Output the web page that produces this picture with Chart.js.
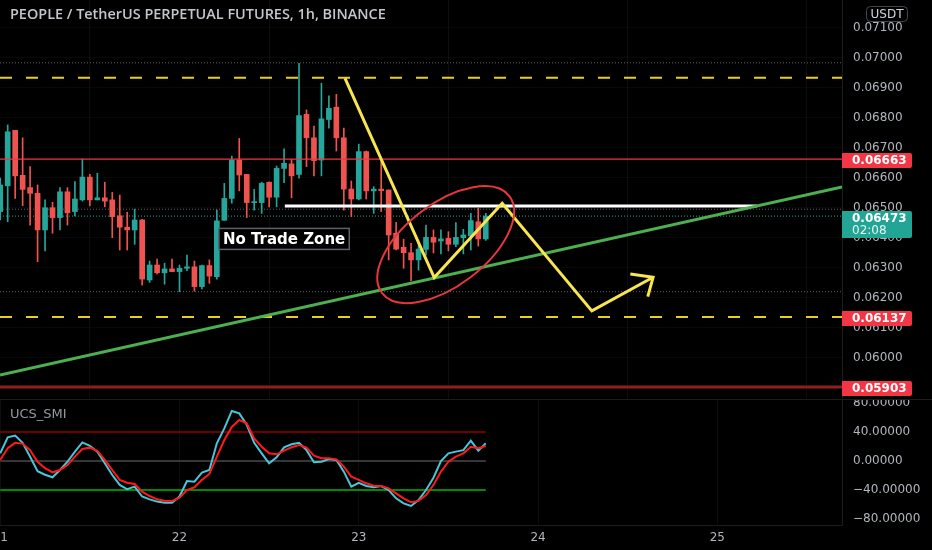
<!DOCTYPE html>
<html><head><meta charset="utf-8">
<script src="https://cdn.jsdelivr.net/npm/chart.js@4.4.0/dist/chart.umd.min.js"></script>
<style>
html,body{margin:0;padding:0;background:#000;overflow:hidden}
#wrap{position:relative;width:932px;height:550px;background:#000}
#c1{position:absolute;left:0;top:0}
#c2{position:absolute;left:0;top:400px}
</style></head><body>
<div id="wrap">
<canvas id="c1" width="932" height="400"></canvas>
<canvas id="c2" width="932" height="150"></canvas>
</div>
<script>
// ---------- DATA ----------
const chartTitle = 'PEOPLE / TetherUS PERPETUAL FUTURES, 1h, BINANCE';
const currency = 'USDT';
const indicatorName = 'UCS_SMI';
const zoneLabel = 'No Trade Zone';
const countdown = '02:08';
const dayHours = [0, 24, 48, 72, 96];
const dayLabels = ['21', '22', '23', '24', '25'];
const priceTicks = [0.060, 0.061, 0.062, 0.063, 0.064, 0.065, 0.066, 0.067, 0.068, 0.069, 0.070, 0.071];
const smiTicks = [80, 40, 0, -40, -80];

const opens  = [0.06488,0.06574,0.06759,0.06609,0.06568,0.06549,0.06427,0.06501,0.06468,0.06554,0.06488,0.06527,0.06603,0.06527,0.06534,0.06527,0.06474,0.06436,0.06427,0.06460,0.06260,0.06310,0.06284,0.06297,0.06288,0.06299,0.06304,0.06238,0.06308,0.06271,0.06459,0.06532,0.06660,0.06612,0.06518,0.06518,0.06586,0.06536,0.06632,0.06647,0.06612,0.06812,0.06734,0.06660,0.06795,0.06836,0.06734,0.06563,0.06530,0.06688,0.06557,0.06563,0.06560,0.06416,0.06369,0.06351,0.06327,0.06362,0.06402,0.06390,0.06399,0.06379,0.06401,0.06407,0.06454,0.06397];
const highs  = [0.06600,0.06777,0.06759,0.06734,0.06638,0.06577,0.06527,0.06519,0.06568,0.06568,0.06588,0.06663,0.06612,0.06616,0.06586,0.06552,0.06543,0.06486,0.06496,0.06462,0.06323,0.06330,0.06316,0.06330,0.06310,0.06343,0.06323,0.06310,0.06327,0.06493,0.06582,0.06673,0.06732,0.06612,0.06562,0.06586,0.06586,0.06640,0.06697,0.06662,0.06982,0.06827,0.06773,0.06916,0.06874,0.06879,0.06766,0.06590,0.06713,0.06690,0.06571,0.06654,0.06560,0.06452,0.06396,0.06382,0.06382,0.06443,0.06427,0.06427,0.06421,0.06451,0.06429,0.06482,0.06499,0.06482];
const lows   = [0.06460,0.06454,0.06532,0.06508,0.06443,0.06321,0.06357,0.06416,0.06427,0.06443,0.06474,0.06523,0.06507,0.06527,0.06504,0.06401,0.06360,0.06360,0.06379,0.06243,0.06252,0.06280,0.06246,0.06288,0.06221,0.06291,0.06223,0.06230,0.06249,0.06263,0.06459,0.06516,0.06557,0.06468,0.06493,0.06482,0.06504,0.06504,0.06584,0.06534,0.06599,0.06638,0.06607,0.06607,0.06766,0.06690,0.06493,0.06471,0.06527,0.06530,0.06482,0.06488,0.06327,0.06360,0.06299,0.06257,0.06293,0.06343,0.06350,0.06347,0.06357,0.06371,0.06347,0.06360,0.06373,0.06392];
const closes = [0.06577,0.06754,0.06607,0.06562,0.06549,0.06427,0.06501,0.06468,0.06554,0.06484,0.06530,0.06603,0.06527,0.06534,0.06523,0.06471,0.06436,0.06427,0.06460,0.06263,0.06310,0.06284,0.06297,0.06288,0.06299,0.06304,0.06238,0.06308,0.06273,0.06457,0.06532,0.06660,0.06610,0.06518,0.06521,0.06582,0.06536,0.06632,0.06649,0.06607,0.06808,0.06734,0.06658,0.06797,0.06832,0.06734,0.06563,0.06530,0.06688,0.06557,0.06563,0.06558,0.06410,0.06363,0.06351,0.06327,0.06363,0.06402,0.06386,0.06397,0.06379,0.06402,0.06410,0.06458,0.06397,0.06473];

const smi       = [10.6,32.7,35,25,6,-14,-19,-22.5,-12.4,-1,12.9,25.7,21,12.9,-3.2,-19.3,-33,-39,-35.4,-49,-52.9,-56,-57.5,-57.5,-49,-27.6,-28.5,-16,-12.4,24.4,45,69,65.7,50,25,10.6,-3.2,5,18.9,23,25,15,-1.8,-1,2.8,1.4,-14.7,-35.4,-30,-34.5,-36.3,-34.5,-40,-51.5,-58.4,-62,-53.8,-40,-23,0,10.6,12.9,15,28,14.2,24.4];
const smiSignal = [1.4,17.5,25,24,15,-1,-10,-15.6,-12.4,-5.5,6,16.5,18.4,14.2,1.4,-12.4,-26,-30,-31.7,-42.3,-48.3,-52.9,-54.7,-55.2,-50.6,-40,-36.3,-26,-17.9,6,29,47,56.6,52,31,19.7,10.6,9.2,14.2,18.9,22,18.4,7.3,3.7,3.7,2.3,-7.8,-21.6,-26,-30.8,-34,-34.5,-37.7,-44.6,-51.5,-57,-55,-47,-33,-14.7,-1,6,10.6,19.7,17.5,20.7];
const smiUpper = 40, smiMid = 0, smiLower = -40;

const levelTop = 0.06934, levelSupport = 0.06137, levelRed = 0.06663, levelDeep = 0.05903;
const rangeHigh = 0.06984, rangeLow = 0.06221, prevClose = 0.06496, lastPrice = 0.06473;
const zoneLevel = 0.06507, zoneFrom = 38.1, zoneTo = 101.3;
const trendX = [-0.03, 112.69], trendY = [0.05943, 0.06570];
const pathX = [46.16, 58.1, 67.2, 79.2, 87.4];
const pathY = [0.06932, 0.06268, 0.06516, 0.06157, 0.06269];
const ellipseCenter = [59.64, 0.06378];
const labelAnchor = [38, 0.06397];

// ---------- VIEW ----------
const xMin = -0.03, xMax = 112.69;
const pMin = 0.0586, pMax = 0.071933;
const sMin = -88.28, sMax = 84.14;
const UP = '#26a69a', DOWN = '#ef5350';
const AXIS_TXT = '#b2b5be';
const FONT = 'DejaVu Sans';
Chart.defaults.font.family = FONT;

const hours = opens.map((_, i) => i);
const candleColors = closes.map((c, i) => c >= opens[i] ? UP : DOWN);
const wicks = hours.map((h, i) => ({x: h, y: [lows[i], highs[i]]}));
const bodies = hours.map((h, i) => ({x: h, y: [opens[i], closes[i]]}));
const seg = (v, a = xMin, b = xMax) => [{x: a, y: v}, {x: b, y: v}];
const lineDs = (data, color, width, dash, order) => ({type: 'line', data, borderColor: color, borderWidth: width, borderDash: dash || [], pointRadius: 0, tension: 0, fill: false, order});

function tag(ctx, yPix, text, bg, sub) {
  ctx.save();
  const h = sub ? 27 : 15;
  const top = sub ? yPix - 6 : yPix - 7;
  ctx.fillStyle = bg;
  ctx.beginPath();
  ctx.roundRect(842, top, 70, h, [0, 2, 2, 0]);
  ctx.fill();
  ctx.fillStyle = '#ffffff';
  ctx.font = 'bold 12px "' + FONT + '"';
  ctx.textBaseline = 'middle';
  ctx.textAlign = 'left';
  ctx.fillText(text, 852, top + 7.5);
  if (sub) { ctx.font = '12px "' + FONT + '"'; ctx.fillStyle = '#e8f5f3'; ctx.fillText(sub, 852, top + 20); }
  ctx.restore();
}

const overlayA = {
  id: 'overlayA',
  afterDatasetsDraw(chart) {
    const {ctx, scales: {x, y}} = chart;
    ctx.save();
    // ellipse
    ctx.beginPath();
    ctx.ellipse(x.getPixelForValue(ellipseCenter[0]), y.getPixelForValue(ellipseCenter[1]), 80, 41, -37.3 * Math.PI / 180, 0, Math.PI * 2);
    ctx.strokeStyle = '#e8363c'; ctx.lineWidth = 2; ctx.stroke();
    // arrow head
    const n = pathX.length;
    const x1 = x.getPixelForValue(pathX[n - 2]), y1 = y.getPixelForValue(pathY[n - 2]);
    const x2 = x.getPixelForValue(pathX[n - 1]), y2 = y.getPixelForValue(pathY[n - 1]);
    const ang = Math.atan2(y2 - y1, x2 - x1) + Math.PI;
    ctx.beginPath();
    ctx.moveTo(x2 + 23 * Math.cos(ang + 0.65), y2 + 23 * Math.sin(ang + 0.65));
    ctx.lineTo(x2, y2);
    ctx.lineTo(x2 + 20 * Math.cos(ang - 0.8), y2 + 20 * Math.sin(ang - 0.8));
    ctx.strokeStyle = '#f9e64f'; ctx.lineWidth = 3; ctx.lineJoin = 'miter'; ctx.lineCap = 'butt'; ctx.stroke();
    // label
    const lx = x.getPixelForValue(labelAnchor[0]), ly = y.getPixelForValue(labelAnchor[1]);
    ctx.font = 'bold 15px "' + FONT + '"';
    const tw = ctx.measureText(zoneLabel).width;
    ctx.fillStyle = '#000';
    ctx.fillRect(lx - tw / 2 - 4, ly - 10.5, tw + 8, 21);
    ctx.strokeStyle = '#5d606b'; ctx.lineWidth = 1.5;
    ctx.strokeRect(lx - tw / 2 - 4, ly - 10.5, tw + 8, 21);
    ctx.fillStyle = '#ffffff'; ctx.textBaseline = 'middle'; ctx.textAlign = 'center';
    ctx.fillText(zoneLabel, lx, ly + 1);
    ctx.restore();
  },
  afterDraw(chart) {
    const {ctx, scales: {y}} = chart;
    ctx.save();
    // title
    ctx.font = '600 13px "Open Sans"';
    const w = ctx.measureText(chartTitle).width;
    const fs = 13 * 376 / w;
    ctx.font = '600 ' + fs.toFixed(2) + 'px "Open Sans"';
    ctx.fillStyle = '#c3c6cc'; ctx.textBaseline = 'middle'; ctx.textAlign = 'left';
    ctx.fillText(chartTitle, 10, 15);
    // currency box
    ctx.strokeStyle = '#434651'; ctx.lineWidth = 1;
    ctx.beginPath(); ctx.roundRect(866.5, 6.5, 41, 15, 4); ctx.stroke();
    ctx.font = '12px "' + FONT + '"'; ctx.fillStyle = '#d1d4dc'; ctx.textAlign = 'center';
    ctx.fillText(currency, 887, 14.5);
    ctx.restore();
    tag(ctx, y.getPixelForValue(levelRed) + 1, levelRed.toFixed(5), '#f23645');
    tag(ctx, y.getPixelForValue(levelSupport) + 1, levelSupport.toFixed(5), '#f23645');
    tag(ctx, y.getPixelForValue(levelDeep) + 1, levelDeep.toFixed(5), '#f23645');
    tag(ctx, y.getPixelForValue(lastPrice) + 1, lastPrice.toFixed(5), '#22a595', countdown);
    // panel separator
    ctx.save(); ctx.fillStyle = '#1c1c1c'; ctx.fillRect(0, 399, 932, 1); ctx.restore();
  }
};

new Chart(document.getElementById('c1'), {
  type: 'bar',
  data: {datasets: [
    lineDs(seg(rangeHigh), '#5d606b', 1, [1, 2], 40),
    lineDs(seg(prevClose), '#5d606b', 1, [1, 2], 40),
    lineDs(seg(rangeLow), '#5d606b', 1, [1, 2], 40),
    lineDs(seg(lastPrice), UP, 1, [1, 2], 40),
    {type: 'bar', data: wicks, backgroundColor: candleColors, barThickness: 1, grouped: false, order: 30},
    {type: 'bar', data: bodies, backgroundColor: candleColors, barThickness: 5, grouped: false, minBarLength: 1, order: 29},
    lineDs(seg(levelRed), '#f23645', 1.4, null, 12),
    lineDs(seg(levelDeep), '#8f1f1f', 3, null, 12),
    lineDs(seg(levelTop), '#e9cf1f', 2, [12, 14], 11),
    lineDs(seg(levelSupport), '#e9cf1f', 2, [12, 14], 11),
    lineDs(seg(zoneLevel, zoneFrom, zoneTo), '#ffffff', 3, null, 10),
    lineDs(trendX.map((v, i) => ({x: v, y: trendY[i]})), '#4caf50', 3, null, 9),
    lineDs(pathX.map((v, i) => ({x: v, y: pathY[i]})), '#f9e64f', 3, null, 5)
  ]},
  options: {
    responsive: false, animation: false, events: [],
    layout: {padding: 0},
    plugins: {legend: {display: false}, tooltip: {enabled: false}},
    scales: {
      x: {type: 'linear', min: xMin, max: xMax, offset: false,
          afterBuildTicks: s => { s.ticks = dayHours.map(v => ({value: v})); },
          afterFit: s => { s.height = 0; s.paddingLeft = 0; s.paddingRight = 0; },
          ticks: {display: false}, grid: {color: 'rgba(255,255,255,0.05)', drawTicks: false}, border: {display: false}},
      y: {type: 'linear', position: 'right', min: pMin, max: pMax,
          afterBuildTicks: s => { s.ticks = priceTicks.map(v => ({value: v})); },
          afterFit: s => { s.width = 90; s.paddingTop = 0; s.paddingBottom = 0; },
          ticks: {color: AXIS_TXT, font: {size: 12}, padding: 11, callback: v => v.toFixed(5)},
          grid: {color: 'rgba(255,255,255,0.03)', drawTicks: false}, border: {color: '#1c1c1c'}}
    }
  },
  plugins: [overlayA]
});

const overlayB = {
  id: 'overlayB',
  afterDraw(chart) {
    const {ctx} = chart;
    ctx.save();
    ctx.font = '13px "' + FONT + '"'; ctx.fillStyle = '#9598a1'; ctx.textBaseline = 'middle'; ctx.textAlign = 'left';
    ctx.fillText(indicatorName, 10, 15);
    ctx.restore();
  }
};

new Chart(document.getElementById('c2'), {
  type: 'line',
  data: {datasets: [
    lineDs(hours.map((h, i) => ({x: h, y: smiSignal[i]})), '#ff1a1a', 2, null, 1),
    lineDs(hours.map((h, i) => ({x: h, y: smi[i]})), '#48c6da', 2, null, 2),
    lineDs(hours.map(h => ({x: h, y: smiUpper})), '#e00000', 1, null, 5),
    lineDs(hours.map(h => ({x: h, y: smiMid})), '#4a4a4a', 1.5, null, 5),
    lineDs(hours.map(h => ({x: h, y: smiLower})), '#008c00', 2, null, 5)
  ]},
  options: {
    responsive: false, animation: false, events: [],
    layout: {padding: 0},
    plugins: {legend: {display: false}, tooltip: {enabled: false}},
    scales: {
      x: {type: 'linear', position: 'bottom', min: xMin, max: xMax, offset: false,
          afterBuildTicks: s => { s.ticks = dayHours.map(v => ({value: v})); },
          afterFit: s => { s.height = 25; s.paddingLeft = 0; s.paddingRight = 0; },
          ticks: {color: AXIS_TXT, font: {size: 12}, padding: 6, maxRotation: 0, autoSkip: false,
                  callback: (v) => dayLabels[dayHours.indexOf(v)]},
          grid: {color: 'rgba(255,255,255,0.05)', drawTicks: false}, border: {color: '#1c1c1c'}},
      y: {type: 'linear', position: 'right', min: sMin, max: sMax,
          afterBuildTicks: s => { s.ticks = smiTicks.map(v => ({value: v})); },
          afterFit: s => { s.width = 90; s.paddingTop = 0; s.paddingBottom = 0; },
          ticks: {color: AXIS_TXT, font: {size: 12}, padding: 11, callback: v => v.toFixed(5).replace('-', '\u2212')},
          grid: {display: false, drawTicks: false}, border: {color: '#1c1c1c'}}
    }
  },
  plugins: [overlayB]
});
</script>
</body></html>
